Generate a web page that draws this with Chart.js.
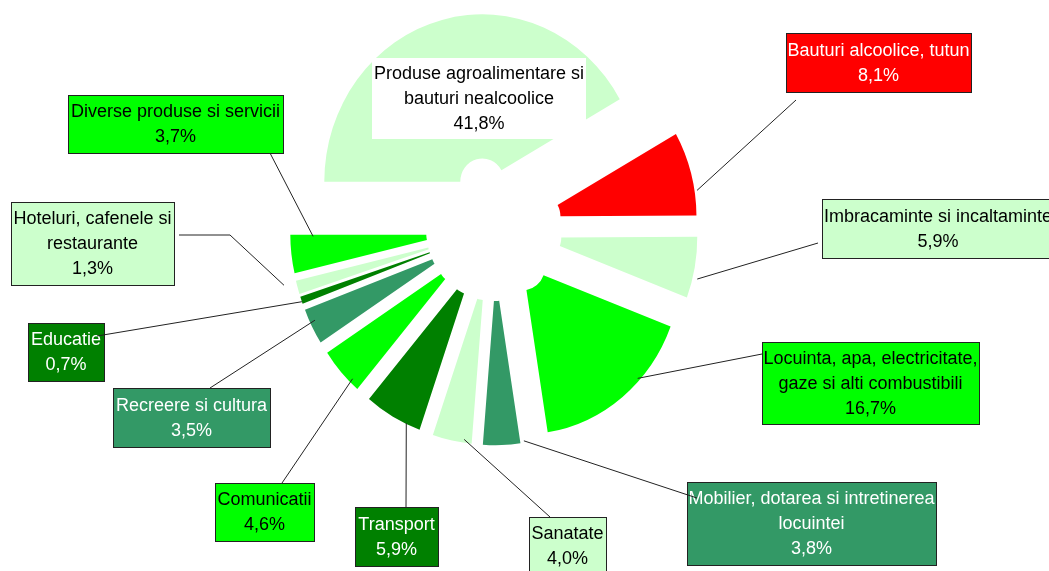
<!DOCTYPE html>
<html>
<head>
<meta charset="utf-8">
<script src="https://cdn.jsdelivr.net/npm/chart.js@4"></script>
<style>
html, body { margin: 0; padding: 0; background: #fff; }
#wrap { width: 1049px; height: 571px; }
</style>
</head>
<body>
<div id="wrap"><canvas id="structChart" width="1049" height="571"></canvas></div>
<script>
// categories in drawing order (first slice starts at 9 o'clock, clockwise)
var categories = [
    ["Produse agroalimentare si", "bauturi nealcoolice"],
    ["Bauturi alcoolice, tutun"],
    ["Imbracaminte si incaltaminte"],
    ["Locuinta, apa, electricitate,", "gaze si alti combustibili"],
    ["Mobilier, dotarea si intretinerea", "locuintei"],
    ["Sanatate"],
    ["Transport"],
    ["Comunicatii"],
    ["Recreere si cultura"],
    ["Educatie"],
    ["Hoteluri, cafenele si", "restaurante"],
    ["Diverse produse si servicii"]
];
var shares = [41.8, 8.1, 5.9, 16.7, 3.8, 4.0, 5.9, 4.6, 3.5, 0.7, 1.3, 3.7];

var sliceColors = ["#CCFFCC", "#FF0000", "#CCFFCC", "#00FF00", "#339966", "#CCFFCC",
                   "#008000", "#00FF00", "#339966", "#008000", "#CCFFCC", "#00FF00"];

// label boxes, leader ends and where the leader touches the slice (fraction of angle, fraction of radius)
var labelBoxes = [
    { x: 372, y: 58, w: 214, h: 81, fill: "#FFFFFF", ink: "#000", border: false },
    { x: 786, y: 33, w: 185, h: 59, ink: "#fff", end: [796, 100], at: [0.71, 1.016] },
    { x: 822, y: 199, w: 232, h: 59, ink: "#000", end: [818, 243], at: [0.67, 1.03] },
    { x: 762, y: 342, w: 217, h: 82, ink: "#000", end: [762, 354], at: [0.36, 0.985] },
    { x: 687, y: 482, w: 249, h: 83, ink: "#fff", end: [697, 498], at: [-0.1, 0.99] },
    { x: 529, y: 517, w: 77, h: 58, ink: "#000", end: [550, 517], at: [0.2, 0.98] },
    { x: 355, y: 507, w: 83, h: 59, ink: "#fff", end: [406, 507], at: [0.25, 0.995] },
    { x: 215, y: 483, w: 99, h: 58, ink: "#000", end: [282, 483], at: [0.22, 0.975] },
    { x: 113, y: 388, w: 157, h: 59, ink: "#fff", end: [210, 388], at: [0.62, 0.966] },
    { x: 28, y: 323, w: 76, h: 58, ink: "#fff", end: [97, 336], at: [0.3, 1.0] },
    { x: 11, y: 202, w: 163, h: 83, ink: "#000", end: [179, 235], elbow: [230, 235], at: [0.9, 1.08] },
    { x: 68, y: 95, w: 215, h: 58, ink: "#000", end: [270, 153], at: [0.95, 0.856] }
];

var EXPLODE = 46;      // every slice pulled out by the same distance
var STRETCH_Y = 1.06;  // the original pie is a little taller than wide
var LINE_H = 25;

function sliceAnchor(arc, at) {
    var mid = (arc.startAngle + arc.endAngle) / 2;
    var a = arc.startAngle + at[0] * (arc.endAngle - arc.startAngle);
    var r = arc.outerRadius * at[1];
    var px = arc.x + Math.cos(mid) * EXPLODE + Math.cos(a) * r;
    var py = arc.y + Math.sin(mid) * EXPLODE + Math.sin(a) * r;
    return [px, arc.y + (py - arc.y) * STRETCH_Y];
}

var explodePlugin = {
    id: "explode",
    beforeDatasetDraw: function (chart, args) {
        var ctx = chart.ctx;
        args.meta.data.forEach(function (arc) {
            var mid = (arc.startAngle + arc.endAngle) / 2;
            ctx.save();
            ctx.translate(arc.x, arc.y);
            ctx.scale(1, STRETCH_Y);
            ctx.translate(-arc.x, -arc.y);
            ctx.translate(Math.cos(mid) * EXPLODE, Math.sin(mid) * EXPLODE);
            arc.draw(ctx);
            ctx.restore();
        });
        return false;
    }
};

var calloutPlugin = {
    id: "callouts",
    afterDatasetsDraw: function (chart) {
        var ctx = chart.ctx;
        var arcs = chart.getDatasetMeta(0).data;
        ctx.save();
        ctx.font = "18px 'Liberation Sans', Arial, sans-serif";
        ctx.textAlign = "center";
        ctx.textBaseline = "middle";
        labelBoxes.forEach(function (b, i) {
            ctx.fillStyle = b.fill || sliceColors[i];
            ctx.fillRect(b.x, b.y, b.w, b.h);
            if (b.border !== false) {
                ctx.strokeStyle = "#222";
                ctx.lineWidth = 1;
                ctx.strokeRect(b.x + 0.5, b.y + 0.5, b.w, b.h);
            }
            var lines = categories[i].concat([shares[i].toFixed(1).replace(".", ",") + "%"]);
            var top = b.y + (b.h - lines.length * LINE_H) / 2 + 1;
            ctx.fillStyle = b.ink;
            lines.forEach(function (t, k) {
                ctx.fillText(t, b.x + b.w / 2, top + LINE_H / 2 + k * LINE_H);
            });
        });
        // leader lines
        ctx.strokeStyle = "#222";
        ctx.lineWidth = 1;
        labelBoxes.forEach(function (b, i) {
            if (!b.at) return;
            var p = sliceAnchor(arcs[i], b.at);
            ctx.beginPath();
            ctx.moveTo(b.end[0], b.end[1]);
            if (b.elbow) ctx.lineTo(b.elbow[0], b.elbow[1]);
            ctx.lineTo(p[0], p[1]);
            ctx.stroke();
        });
        ctx.restore();
    }
};

var ctx = document.getElementById("structChart").getContext("2d");
var structChart = new Chart(ctx, {
    type: "doughnut",
    data: {
        labels: categories.map(function (c) { return c.join(" "); }),
        datasets: [{
            data: shares,
            backgroundColor: sliceColors,
            borderWidth: 0
        }]
    },
    options: {
        responsive: false,
        animation: false,
        devicePixelRatio: 1,
        rotation: 270,
        cutout: 22,
        layout: { padding: { left: 336, right: 397, top: 71, bottom: 184 } },
        events: [],
        plugins: {
            legend: { display: false },
            tooltip: { enabled: false }
        }
    },
    plugins: [explodePlugin, calloutPlugin]
});
</script>
</body>
</html>
